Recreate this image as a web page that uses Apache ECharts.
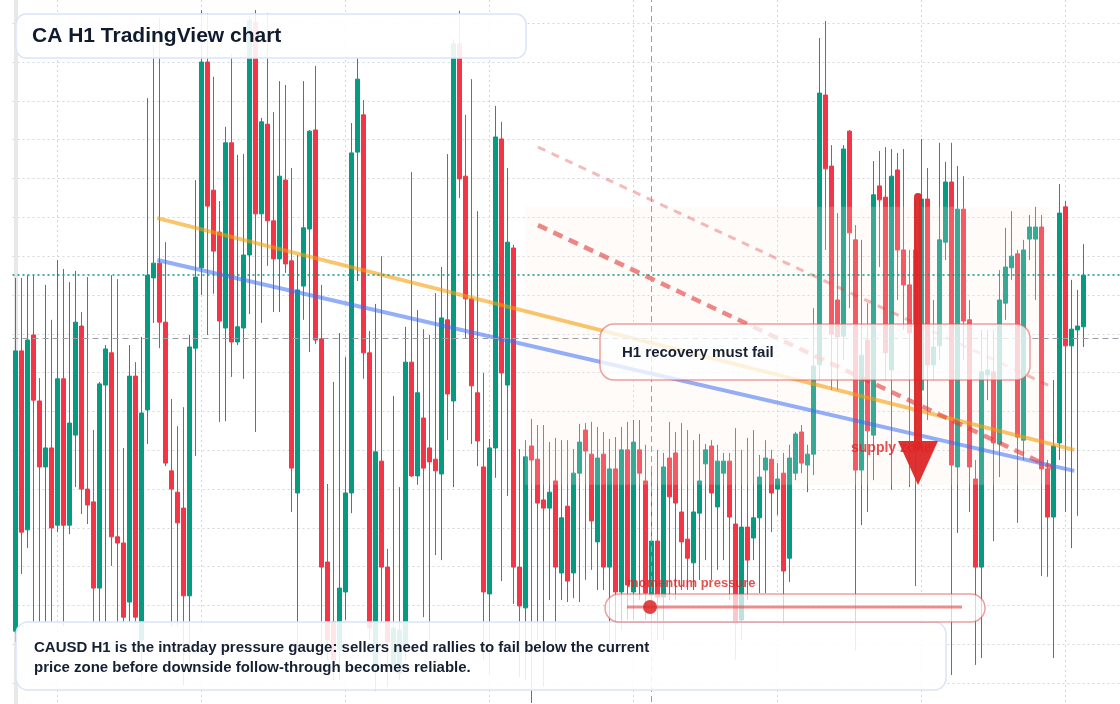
<!DOCTYPE html>
<html>
<head>
<meta charset="utf-8">
<title>CA H1 TradingView chart</title>
<script src="https://cdn.jsdelivr.net/npm/echarts@6/dist/echarts.min.js"></script>
<style>
  html, body { margin: 0; padding: 0; background: #ffffff; }
  #chart { width: 1120px; height: 704px; }
</style>
</head>
<body>
<div id="chart"></div>
<script>
// H1 candles, price in grid units (one dotted grid step = 1)
const openPrices = [
  2.34, 9.56, 4.95, 9.97, 8.27, 6.57, 7.06, 5.07, 8.84, 5.07, 7.39, 10.20, 6.00, 5.67, 3.45, 8.68, 9.51, 4.77, 4.61, 3.09,
  8.91, 2.11, 8.04, 11.44, 11.82, 10.30, 6.47, 5.92, 5.51, 3.25, 9.63, 11.70, 17.00, 13.70, 12.62, 10.15, 14.92, 9.79, 10.15, 12.03,
  18.03, 13.09, 15.40, 12.91, 11.93, 13.96, 11.88, 5.90, 11.23, 12.70, 15.25, 9.87, 4.12, 2.58, 1.85, 3.35, 5.90, 14.68, 15.64, 9.51,
  1.47, 6.72, 3.99, 1.37, 1.26, 1.93, 9.27, 6.34, 7.83, 7.06, 6.77, 6.39, 10.36, 8.27, 17.47, 14.06, 10.90, 8.48, 6.57, 3.30,
  7.06, 15.02, 8.68, 12.21, 3.99, 2.94, 7.11, 6.77, 5.72, 5.51, 6.21, 3.84, 5.56, 3.84, 6.41, 7.52, 6.90, 4.64, 6.90, 3.99,
  6.52, 3.35, 7.01, 3.35, 7.01, 6.21, 3.27, 4.66, 3.22, 6.80, 6.93, 5.41, 4.71, 4.10, 5.38, 6.65, 7.11, 5.54, 6.41, 6.72,
  5.10, 2.63, 5.02, 4.74, 5.26, 6.49, 6.77, 6.00, 6.41, 4.22, 6.41, 7.47, 6.62, 6.90, 9.20, 16.15, 14.32, 10.87, 9.94, 15.22,
  12.42, 6.49, 9.84, 7.39, 13.81, 13.52, 9.07, 14.22, 12.16, 11.26, 12.16, 8.55, 13.47, 9.20, 9.69, 12.36, 13.91, 6.57, 13.21, 10.36,
  6.26, 3.99, 8.94, 9.02, 7.16, 10.79, 11.70, 12.06, 7.26, 12.44, 12.44, 12.75, 6.52, 5.28, 7.19, 13.27, 9.69, 10.10, 10.18
];
const closePrices = [
  9.56, 4.89, 9.84, 8.29, 6.57, 7.06, 5.00, 8.84, 5.07, 7.70, 10.30, 6.00, 5.59, 3.45, 8.71, 9.61, 4.77, 4.61, 2.70, 8.91,
  2.70, 7.96, 11.51, 11.82, 10.30, 6.67, 6.00, 5.13, 3.25, 9.66, 11.46, 17.00, 13.29, 12.13, 10.33, 14.92, 9.79, 10.18, 12.03, 18.08,
  13.09, 15.46, 12.91, 11.93, 14.06, 11.80, 6.54, 11.13, 12.73, 15.22, 9.84, 3.99, 2.11, 1.60, 3.45, 5.90, 14.66, 16.56, 9.51, 2.42,
  6.96, 3.99, 2.06, 2.42, 2.37, 9.27, 6.34, 8.48, 6.54, 6.70, 6.47, 10.41, 8.45, 17.47, 13.99, 10.90, 8.66, 7.24, 3.35, 7.06,
  15.07, 8.99, 12.36, 3.99, 2.99, 6.83, 6.75, 5.64, 5.51, 5.92, 3.99, 5.26, 3.63, 6.41, 7.21, 6.98, 5.18, 6.80, 3.99, 6.52,
  3.35, 7.01, 3.53, 7.21, 6.41, 3.32, 4.66, 3.22, 6.57, 5.80, 5.64, 4.64, 4.22, 5.41, 6.21, 7.01, 5.90, 6.72, 6.72, 5.28,
  2.55, 5.02, 4.17, 5.26, 6.31, 6.80, 5.90, 6.26, 3.89, 6.80, 7.42, 6.67, 6.90, 9.17, 16.20, 14.25, 9.99, 9.92, 14.76, 12.60,
  6.49, 9.45, 7.50, 13.58, 13.45, 9.51, 14.06, 12.16, 11.26, 10.02, 8.81, 13.47, 9.20, 9.66, 12.42, 13.91, 6.62, 13.21, 10.33, 6.57,
  3.99, 9.02, 9.07, 7.19, 10.87, 11.72, 12.00, 7.34, 12.16, 12.75, 12.75, 6.52, 5.28, 7.11, 13.11, 9.69, 10.12, 10.20, 11.51
];
const lowPrices = [
  2.06, 3.81, 4.48, 2.58, 2.58, 2.58, 2.58, 4.89, 2.47, 4.84, 6.05, 5.36, 5.10, 2.58, 2.58, 2.58, 4.02, 2.58, 2.58, 2.58,
  2.58, 1.18, 7.16, 10.28, 9.63, 6.59, 2.47, 2.47, 0.95, 1.24, 6.85, 11.00, 9.97, 11.03, 7.73, 7.75, 8.89, 9.71, 8.84, 10.51,
  7.47, 10.28, 11.75, 10.56, 10.56, 11.57, 5.41, 1.85, 10.36, 9.53, 9.74, 1.65, 1.60, 1.08, 1.08, 2.63, 5.38, 11.36, 8.84, 2.11,
  0.80, 2.58, 0.90, 1.29, 1.08, 1.60, 6.31, 6.11, 2.70, 2.11, 4.30, 4.17, 7.26, 6.05, 13.50, 9.89, 7.16, 6.59, 1.60, 1.24,
  6.29, 3.63, 5.82, 3.04, 1.16, 1.08, 0.49, 2.11, 0.90, 3.14, 1.85, 3.14, 3.09, 3.19, 3.09, 3.66, 3.92, 3.40, 3.40, 1.93,
  1.85, 2.37, 2.63, 2.63, 3.14, 2.63, 2.11, 2.11, 2.11, 3.14, 3.14, 3.40, 3.40, 3.40, 3.66, 4.17, 3.66, 3.92, 4.17, 3.14,
  1.60, 2.11, 3.14, 4.17, 3.32, 3.32, 4.89, 5.33, 2.50, 3.61, 6.23, 6.41, 5.92, 6.36, 8.81, 12.16, 8.55, 8.55, 9.33, 10.66,
  1.85, 5.07, 5.41, 6.23, 11.72, 8.81, 5.98, 10.87, 10.10, 6.05, 3.50, 7.78, 7.78, 8.81, 9.33, 11.90, 1.21, 4.87, 9.33, 5.41,
  1.47, 1.65, 8.29, 4.66, 6.31, 10.36, 11.39, 5.13, 6.75, 11.90, 10.87, 3.76, 3.74, 1.65, 6.75, 5.41, 4.48, 5.31, 9.66
];
const highPrices = [
  11.44, 11.44, 11.51, 11.51, 8.86, 11.26, 10.36, 11.90, 11.67, 11.33, 11.62, 10.56, 11.46, 7.52, 8.76, 9.71, 11.51, 11.41, 7.06, 9.71,
  9.27, 9.92, 16.07, 17.44, 18.14, 12.36, 8.32, 7.62, 8.11, 9.97, 13.96, 18.34, 18.26, 16.62, 13.42, 15.33, 17.21, 14.61, 14.63, 18.19,
  18.34, 15.56, 18.26, 15.71, 16.51, 16.41, 14.27, 12.03, 16.51, 15.25, 16.90, 11.26, 6.13, 8.76, 10.02, 9.40, 15.43, 17.10, 16.02, 10.07,
  10.77, 12.00, 4.46, 8.40, 6.05, 10.18, 14.17, 10.61, 10.12, 9.97, 11.05, 11.72, 14.63, 17.57, 18.32, 15.64, 16.56, 13.16, 8.99, 7.29,
  15.87, 15.46, 14.27, 12.29, 7.03, 7.26, 7.81, 7.65, 7.65, 7.21, 7.32, 7.26, 7.26, 7.03, 7.68, 7.70, 7.73, 7.60, 7.47, 7.29,
  7.34, 7.60, 7.73, 7.78, 7.78, 7.14, 6.49, 7.01, 6.93, 7.73, 7.47, 7.70, 7.52, 7.26, 7.42, 7.16, 7.26, 7.14, 6.93, 6.93,
  7.57, 7.01, 7.32, 7.52, 6.88, 7.26, 7.01, 6.67, 6.93, 7.14, 7.47, 7.65, 7.14, 10.66, 17.62, 18.06, 14.86, 13.11, 14.86, 15.25,
  12.80, 12.42, 10.79, 14.45, 14.71, 14.81, 14.76, 14.66, 14.76, 12.16, 13.45, 15.02, 14.27, 10.87, 14.92, 14.43, 14.92, 14.32, 14.06, 10.87,
  6.75, 10.10, 10.10, 10.10, 11.64, 12.73, 13.16, 12.16, 12.42, 13.06, 13.27, 13.06, 6.75, 8.81, 13.86, 13.42, 11.39, 11.13, 12.31
];

const slotCount = 185;            // visible hourly slots, the last ones are still empty
const gridSlots = [7, 31, 55, 79, 103, 127, 151, 175];
const lastPrice = 11.51;
const crosshairSlot = 106;
const crosshairPrice = 9.89;

// drawn levels: [slot, price] start and end
const orangeTrend = [[23.63, 12.98], [176.47, 7.01]];
const blueTrend = [[23.63, 11.90], [176.47, 6.47]];
const upperDashed = [[87.08, 14.81], [172.75, 8.63]];
const lowerDashed = [[87.08, 12.80], [172.9, 6.54]];
const supplyZone = [[84.9, 13.27], [172.4, 6.11]];

const UP = '#089981';
const DOWN = '#f23645';
const FONT = '"Liberation Sans", Arial, sans-serif';

const hours = [];
for (let i = 0; i < slotCount; i++) {
  const d = Math.floor(i / 24) + 1;
  const h = i % 24;
  hours.push('D' + d + ' ' + (h < 10 ? '0' : '') + h + ':00');
}

const candles = openPrices.map((o, i) => [o, closePrices[i], lowPrices[i], highPrices[i]]);

const chart = echarts.init(document.getElementById('chart'), null, { renderer: 'canvas' });

const option = {
  animation: false,
  backgroundColor: '#ffffff',
  grid: {
    left: 12.5,
    top: -15.58,
    width: 1110,
    height: 737.58,
    outerBoundsMode: 'none'
  },
  xAxis: [
    {
      type: 'category',
      data: hours,
      boundaryGap: true,
      axisLine: { show: false },
      axisTick: { show: false },
      axisLabel: { show: false },
      splitLine: { show: false }
    },
    {
      type: 'value',
      min: -0.5,
      max: slotCount - 0.5,
      show: false,
      splitLine: { show: false }
    }
  ],
  yAxis: {
    type: 'value',
    min: 0,
    max: 19,
    interval: 1,
    axisLine: { show: true, lineStyle: { color: '#e8e8e8', width: 4 } },
    axisTick: { show: false },
    axisLabel: { show: false },
    splitLine: { show: true, lineStyle: { color: '#d3d6da', width: 1, type: [2, 3] } }
  },
  series: [
    {
      // vertical dotted grid
      type: 'line',
      xAxisIndex: 1,
      data: [],
      silent: true,
      markLine: {
        z: 1,
        silent: true,
        symbol: 'none',
        label: { show: false },
        lineStyle: { color: '#d3d6da', width: 1, type: [2, 3] },
        data: gridSlots.map(s => ({ xAxis: s }))
      }
    },
    {
      type: 'candlestick',
      name: 'CAUSD H1',
      data: candles,
      barWidth: 4,
      itemStyle: {
        color: UP,
        color0: DOWN,
        borderColor: UP,
        borderColor0: DOWN,
        borderWidth: 1
      },
      markLine: {
        silent: true,
        symbol: 'none',
        label: { show: false },
        data: [
          { yAxis: lastPrice, lineStyle: { color: UP, width: 1.5, type: [2, 3] } },
          { yAxis: crosshairPrice, lineStyle: { color: '#9a9ea4', width: 1, type: [6, 4] } },
          { xAxis: hours[crosshairSlot], lineStyle: { color: '#9a9ea4', width: 1, type: [6, 4] } }
        ]
      }
    },
    {
      type: 'line',
      xAxisIndex: 1,
      data: [],
      silent: true,
      markArea: {
        z: 3,
        silent: true,
        itemStyle: { color: 'rgba(250,236,224,0.2)' },
        data: [[{ coord: supplyZone[0] }, { coord: supplyZone[1] }]]
      }
    },
    {
      type: 'line', name: 'upper channel', xAxisIndex: 1, data: orangeTrend, z: 4,
      symbol: 'none', silent: true,
      lineStyle: { color: 'rgba(245,158,11,0.6)', width: 4 }
    },
    {
      type: 'line', name: 'lower channel', xAxisIndex: 1, data: blueTrend, z: 4,
      symbol: 'none', silent: true,
      lineStyle: { color: 'rgba(59,110,246,0.55)', width: 4 }
    },
    {
      type: 'line', name: 'upper dashed', xAxisIndex: 1, data: upperDashed, z: 4,
      symbol: 'none', silent: true,
      lineStyle: { color: 'rgba(226,56,56,0.35)', width: 3, type: [8, 7] }
    },
    {
      type: 'line', name: 'lower dashed', xAxisIndex: 1, data: lowerDashed, z: 4,
      symbol: 'none', silent: true,
      lineStyle: { color: 'rgba(226,56,56,0.6)', width: 4.5, type: [10, 7] }
    }
  ],
  graphic: [
    {
      type: 'rect', z: 100, silent: true,
      shape: { x: 16, y: 14, width: 510, height: 44, r: 10 },
      style: { fill: 'rgba(255,255,255,0.9)', stroke: '#d9e5f7', lineWidth: 1.5 }
    },
    {
      type: 'text', z: 101, silent: true, x: 32, y: 36,
      style: { text: 'CA H1 TradingView chart', font: 'bold 21px ' + FONT, fill: '#111b2e', verticalAlign: 'middle' }
    },
    {
      type: 'rect', z: 100, silent: true,
      shape: { x: 16, y: 622, width: 930, height: 68, r: 12 },
      style: { fill: 'rgba(255,255,255,0.88)', stroke: '#d9e5f7', lineWidth: 1.5 }
    },
    {
      type: 'text', z: 101, silent: true, x: 34, y: 648,
      style: { text: 'CAUSD H1 is the intraday pressure gauge: sellers need rallies to fail below the current', font: 'bold 15px ' + FONT, fill: '#172033', verticalAlign: 'middle' }
    },
    {
      type: 'text', z: 101, silent: true, x: 34, y: 668,
      style: { text: 'price zone before downside follow-through becomes reliable.', font: 'bold 15px ' + FONT, fill: '#172033', verticalAlign: 'middle' }
    },
    {
      type: 'rect', z: 100, silent: true,
      shape: { x: 600, y: 324, width: 430, height: 56, r: 14 },
      style: { fill: 'rgba(255,255,255,0.76)', stroke: 'rgba(226,80,80,0.55)', lineWidth: 1.5 }
    },
    {
      type: 'text', z: 101, silent: true, x: 622, y: 353,
      style: { text: 'H1 recovery must fail', font: 'bold 15px ' + FONT, fill: '#172033', verticalAlign: 'middle' }
    },
    {
      type: 'text', z: 102, silent: true, x: 851, y: 448,
      style: { text: 'supply zone', font: 'bold 14px ' + FONT, fill: 'rgba(220,38,38,0.8)', verticalAlign: 'middle' }
    },
    {
      type: 'line', z: 103, silent: true,
      shape: { x1: 918, y1: 197, x2: 918, y2: 446 },
      style: { stroke: '#dc2626', lineWidth: 8, lineCap: 'round', opacity: 0.95 }
    },
    {
      type: 'polygon', z: 103, silent: true,
      shape: { points: [[898, 441], [938, 441], [918, 485]] },
      style: { fill: '#dc2626', opacity: 0.95 }
    },
    {
      type: 'rect', z: 100, silent: true,
      shape: { x: 605, y: 594, width: 380, height: 28, r: 14 },
      style: { fill: 'rgba(255,255,255,0.72)', stroke: 'rgba(226,80,80,0.55)', lineWidth: 1.5 }
    },
    {
      type: 'line', z: 101, silent: true,
      shape: { x1: 627, y1: 607, x2: 962, y2: 607 },
      style: { stroke: 'rgba(226,80,80,0.65)', lineWidth: 3 }
    },
    {
      type: 'circle', z: 102, silent: true,
      shape: { cx: 650, cy: 607, r: 7 },
      style: { fill: 'rgba(220,38,38,0.85)' }
    },
    {
      type: 'text', z: 101, silent: true, x: 627, y: 583,
      style: { text: 'momentum pressure', font: 'bold 13px ' + FONT, fill: 'rgba(220,38,38,0.8)', verticalAlign: 'middle' }
    }
  ]
};

chart.setOption(option);
</script>
</body>
</html>
